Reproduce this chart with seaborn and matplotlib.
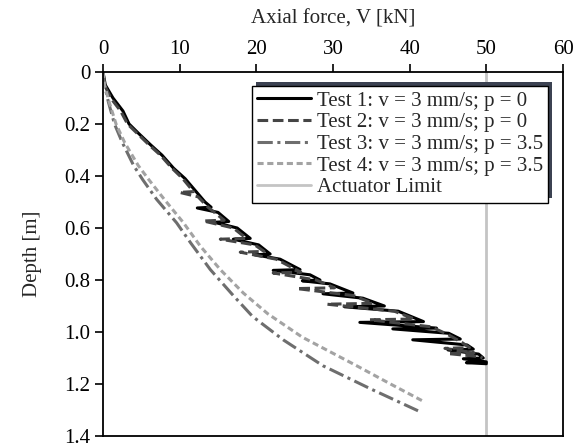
import numpy as np
import pandas as pd
import matplotlib
matplotlib.use("Agg")
import matplotlib.pyplot as plt
import matplotlib.patheffects as pe
from matplotlib.ticker import FuncFormatter
import seaborn as sns

# Test 1: v = 3 mm/s; p = 0 (sawtooth from reloading)
t1_depth = [0.000, 0.050, 0.100, 0.150, 0.200, 0.235, 0.280, 0.320, 0.370, 0.410,
            0.455, 0.500, 0.520, 0.523, 0.540, 0.575, 0.578, 0.600, 0.640, 0.643,
            0.665, 0.700, 0.703, 0.720, 0.760, 0.763, 0.780, 0.800, 0.803, 0.815,
            0.850, 0.853, 0.870, 0.900, 0.903, 0.920, 0.960, 0.963, 0.985, 0.988,
            1.005, 1.027, 1.030, 1.050, 1.066, 1.069, 1.085, 1.100, 1.103, 1.115,
            1.118, 1.122]
t1_force = [0.0, 0.3, 1.3, 2.6, 3.4, 4.6, 6.2, 7.7, 9.2, 10.7,
            12.0, 13.3, 14.1, 12.3, 15.0, 16.4, 14.5, 17.5, 19.2, 17.0,
            20.3, 21.8, 19.8, 23.1, 25.7, 22.2, 27.0, 28.3, 26.0, 29.6,
            32.6, 28.7, 33.9, 36.7, 31.5, 38.5, 41.8, 33.5, 43.5, 37.8,
            45.1, 46.6, 40.4, 47.5, 48.3, 45.0, 49.0, 49.6, 47.0, 50.0,
            47.4, 50.0]

# Test 2: v = 3 mm/s; p = 0
t2_depth = [0.000, 0.050, 0.100, 0.150, 0.200, 0.240, 0.280, 0.320, 0.370, 0.410,
            0.460, 0.463, 0.480, 0.520, 0.570, 0.573, 0.600, 0.640, 0.643, 0.665,
            0.690, 0.693, 0.720, 0.770, 0.773, 0.800, 0.830, 0.833, 0.860, 0.890,
            0.893, 0.920, 0.950, 0.953, 0.980, 1.010, 1.040, 1.060, 1.063, 1.080,
            1.083, 1.095, 1.100]
t2_force = [0.0, 0.2, 1.0, 2.3, 3.2, 4.6, 6.0, 7.5, 9.0, 10.4,
            11.8, 10.0, 12.4, 13.7, 15.8, 13.1, 17.0, 18.7, 15.3, 19.8,
            21.0, 17.9, 22.6, 25.8, 22.2, 27.8, 30.2, 25.3, 32.7, 35.2,
            29.2, 38.0, 40.6, 34.8, 42.8, 45.0, 46.8, 47.8, 44.6, 48.4,
            45.0, 49.2, 49.5]

# Test 3: v = 3 mm/s; p = 3.5
t3_depth = [0.0, 0.05, 0.115, 0.20, 0.27, 0.36, 0.415, 0.49, 0.58, 0.66,
            0.76, 0.86, 0.94, 1.03, 1.13, 1.22, 1.31]
t3_force = [0.0, 0.2, 0.7, 1.5, 2.5, 4.0, 5.2, 7.0, 9.6, 11.5,
            14.0, 17.0, 19.5, 23.5, 28.7, 35.0, 41.6]

# Test 4: v = 3 mm/s; p = 3.5
t4_depth = [0.0, 0.05, 0.115, 0.20, 0.27, 0.36, 0.415, 0.49, 0.58, 0.67,
            0.76, 0.85, 0.93, 1.02, 1.13, 1.20, 1.27]
t4_force = [0.0, 0.2, 0.8, 1.7, 2.8, 4.6, 6.0, 8.0, 10.5, 12.7,
            15.3, 18.3, 21.5, 26.0, 33.1, 37.5, 42.0]

actuator_limit = 50
labels = ["Test 1: v = 3 mm/s; p = 0", "Test 2: v = 3 mm/s; p = 0",
          "Test 3: v = 3 mm/s; p = 3.5", "Test 4: v = 3 mm/s; p = 3.5"]

sns.set_style("ticks")
plt.rcParams["font.family"] = ["Liberation Serif", "DejaVu Serif"]

FS = 15

fig = plt.figure(figsize=(5.85, 4.47), dpi=100)
ax = fig.add_axes([103 / 585, 1 - 436 / 447, 460 / 585, 364 / 447])

styles = [
    dict(color="black", lw=2.2, linestyle="-"),
    dict(color="#454545", lw=2.2, dashes=(3.5, 1.5)),
    dict(color="#6e6e6e", lw=2.2, dashes=(5, 1.5, 1, 1.5)),
    dict(color="#a3a3a3", lw=2.2, dashes=(2, 1.2)),
]
series = [(t1_force, t1_depth), (t2_force, t2_depth),
          (t3_force, t3_depth), (t4_force, t4_depth)]

for (f, d), lab, st in zip(series, labels, styles):
    df = pd.DataFrame({"force": f, "depth": d})
    sns.lineplot(data=df, x="force", y="depth", ax=ax, sort=False,
                 estimator=None, label=lab, **st)

ax.axvline(actuator_limit, color="#c4c4c4", lw=2, label="Actuator Limit", zorder=0)

ax.set_xlim(0, 60)
ax.set_ylim(1.4, 0)
ax.set_xticks(np.arange(0, 61, 10))
ax.set_yticks(np.arange(0, 1.41, 0.2))
ax.yaxis.set_major_formatter(FuncFormatter(lambda v, p: "0" if abs(v) < 1e-9 else f"{v:.1f}"))
ax.xaxis.set_ticks_position("top")
ax.xaxis.set_label_position("top")
ax.tick_params(axis="both", direction="out", length=6, width=1.2,
               labelsize=FS, colors="black", pad=3)
ax.set_xlabel("Axial force, V [kN]", fontsize=FS, labelpad=12)
ax.set_ylabel("Depth [m]", fontsize=FS, labelpad=16)
for s in ax.spines.values():
    s.set_visible(True)
    s.set_linewidth(1.3)
    s.set_color("black")

leg = ax.legend(loc="upper right", bbox_to_anchor=(445 / 460, 1 - 14 / 364),
                borderaxespad=0, fontsize=FS, frameon=True, fancybox=False,
                handlelength=2.6, handletextpad=0.25, labelspacing=0.1,
                borderpad=0.25)
frame = leg.get_frame()
frame.set_edgecolor("black")
frame.set_linewidth(1.0)
frame.set_alpha(1)
frame.set_path_effects([pe.SimplePatchShadow(offset=(3, 3), shadow_rgbFace="#3c4252",
                                             alpha=1), pe.Normal()])

fig.savefig("out.png", dpi=100)
